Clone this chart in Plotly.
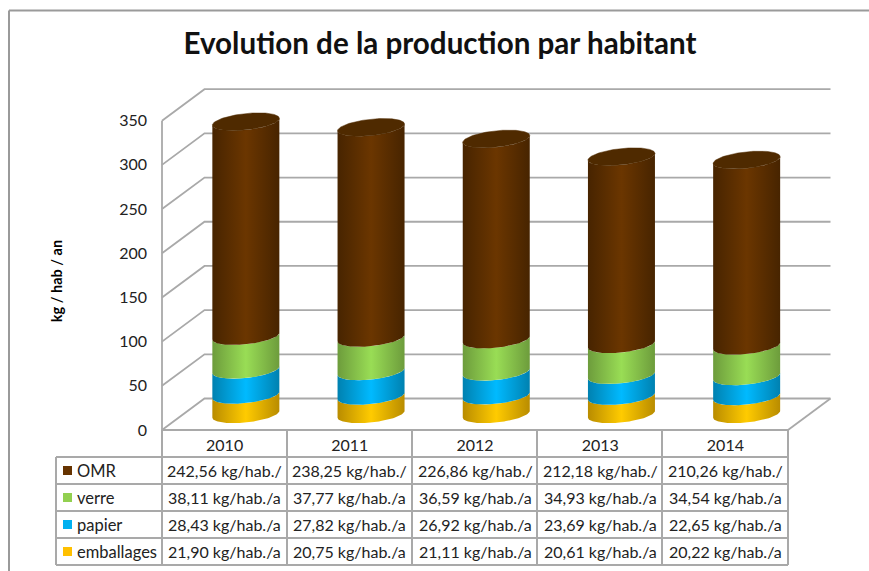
import numpy as np
import plotly.graph_objects as go

# ---- data ----
years = ["2010", "2011", "2012", "2013", "2014"]
emballages = [21.90, 20.75, 21.11, 20.61, 20.22]
papier = [28.43, 27.82, 26.92, 23.69, 22.65]
verre = [38.11, 37.77, 36.59, 34.93, 34.54]
omr = [242.56, 238.25, 226.86, 212.18, 210.26]
y_ticks = [0, 50, 100, 150, 200, 250, 300, 350]
title_text = "Evolution de la production par habitant"
y_title = "kg / hab / an"

# bottom to top stacking
stack_names = ["emballages", "papier", "verre", "OMR"]
stack_values = [emballages, papier, verre, omr]
stack_units = [" kg/hab./a", " kg/hab./a", " kg/hab./a", " kg/hab./"]
key_colors = ["#ffc000", "#00b0f0", "#92d050", "#663300"]
edge_colors = ["#b98c00", "#0081b0", "#6d9c3c", "#472400"]
mid_colors = ["#ffcb00", "#00baff", "#99dd55", "#6b3600"]
top_color = "#4f2a00"

W, H = 869, 571
GRID = "#a9a9a9"
TEXT = "#222222"
FONT = "Lato"

# ---- pixel calibration of the axes ----
PX_ZERO, PX_350 = 430.0, 120.7
PX_COL0, PX_COLSTEP = 224.6, 125.2
PY_TOP, PY_BOT = 30, 532
y_scale = (PX_ZERO - PX_350) / 350


def px(x):
    return x / W


def py(y):
    return 1 - y / H


y_range = [(PX_ZERO - PY_BOT) / y_scale, (PX_ZERO - PY_TOP) / y_scale]
x_range = [(0 - PX_COL0) / PX_COLSTEP, (W - PX_COL0) / PX_COLSTEP]

# 3D box depth, axis units
depth_x = 42.5 / PX_COLSTEP
depth_y = 31.5 / y_scale
x_left, x_right = -0.5, 4.5

# cylinder, axis units
rad_x = 33.5 / PX_COLSTEP
rad_y = 8.2 / y_scale
tilt = 3.4 / y_scale

fig = go.Figure()

# ---- walls and floor ----
gx, gy = [x_left, x_left, None], [0, y_ticks[-1], None]
for v in y_ticks:
    gx += [x_left, x_left + depth_x, x_right + depth_x, None]
    gy += [v, v + depth_y, v + depth_y, None]
gx += [x_right + depth_x, x_right]
gy += [depth_y, 0]
fig.add_trace(go.Scatter(x=gx, y=gy, mode="lines", line=dict(color=GRID, width=1.8),
                         hoverinfo="skip", showlegend=False))


# ---- cylinders ----
def rim(cx, level, t):
    # tilted ellipse: the right side sits higher than the left one
    return cx + rad_x * np.cos(t), level + rad_y * np.sin(t) + tilt * np.cos(t)


front = np.linspace(np.pi, 2 * np.pi, 60)  # left -> right along the near side
back = front[::-1]
whole = np.linspace(0, 2 * np.pi, 120)
for i in range(len(years)):
    cx = i + depth_x / 2
    base = depth_y / 2
    for s, values in enumerate(stack_values):
        v0 = base
        v1 = base + values[i]
        x0, y0 = rim(cx, v0, front)
        x1, y1 = rim(cx, v1, back)
        fig.add_trace(go.Scatter(
            x=np.r_[x0, x1], y=np.r_[y0, y1], mode="lines",
            line=dict(width=0, color="rgba(0,0,0,0)"),
            fill="toself",
            fillgradient=dict(type="horizontal",
                              colorscale=[[0, edge_colors[s]], [0.5, mid_colors[s]], [1, edge_colors[s]]],
                              start=cx - rad_x, stop=cx + rad_x),
            hoverinfo="skip", showlegend=False))
        base = v1
    xt, yt = rim(cx, base, whole)
    fig.add_trace(go.Scatter(x=xt, y=yt, mode="lines", line=dict(width=0.5, color=top_color), fill="toself",
                             fillcolor=top_color, hoverinfo="skip", showlegend=False))

# ---- data table ----
col_edges = [162, 287, 412, 537, 662, 788]
row_edges = [430, 457, 484, 511, 538, 565]
line = dict(color=GRID, width=2)
shapes = []
for xe in col_edges:
    shapes.append(dict(type="line", xref="paper", yref="paper", x0=px(xe), x1=px(xe),
                       y0=py(430), y1=py(565), line=line))
shapes.append(dict(type="line", xref="paper", yref="paper", x0=px(56), x1=px(56),
                   y0=py(457), y1=py(565), line=line))
for k, ye in enumerate(row_edges):
    shapes.append(dict(type="line", xref="paper", yref="paper", x0=px(56 if k else 162), x1=px(788),
                       y0=py(ye), y1=py(ye), line=line))
# outer frame of the chart
shapes.append(dict(type="line", xref="paper", yref="paper", x0=px(9), x1=1, y0=py(10.5), y1=py(10.5),
                   line=dict(color="#9a9a9a", width=2)))
shapes.append(dict(type="line", xref="paper", yref="paper", x0=px(9), x1=px(9), y0=py(10.5), y1=0,
                   line=dict(color="#9a9a9a", width=2)))

annotations = []
for r, s in enumerate(reversed(range(len(stack_names)))):
    yc = (row_edges[r + 1] + row_edges[r + 2]) / 2
    shapes.append(dict(type="rect", xref="paper", yref="paper", x0=px(63), x1=px(72),
                       y0=py(yc - 4.5), y1=py(yc + 4.5), fillcolor=key_colors[s], line=dict(width=0)))
    annotations.append(dict(xref="paper", yref="paper", x=px(74.5), y=py(yc), text=stack_names[s],
                            xanchor="left", yanchor="middle", showarrow=False,
                            font=dict(family=FONT, size=16.5, color=TEXT)))
    for i in range(len(years)):
        label = f"{stack_values[s][i]:.2f}".replace(".", ",") + stack_units[s]
        annotations.append(dict(xref="x", yref="paper", x=i, y=py(yc), text=label,
                                xanchor="center", yanchor="middle", showarrow=False,
                                font=dict(family=FONT, size=16, color=TEXT)))

fig.update_layout(
    width=W, height=H, margin=dict(l=0, r=0, t=0, b=0), autosize=False,
    paper_bgcolor="white", plot_bgcolor="rgba(0,0,0,0)", showlegend=False,
    title=dict(text=f"<b>{title_text}</b>", x=px(440), y=py(44), xanchor="center", yanchor="middle",
               font=dict(family=FONT, size=29.6, color="#111111")),
    xaxis=dict(domain=[0, 1], range=x_range, anchor="free", position=py(PX_ZERO),
               tickmode="array", tickvals=list(range(len(years))), ticktext=years,
               showgrid=False, zeroline=False, showline=False, ticks="", ticklabelstandoff=4,
               tickfont=dict(family=FONT, size=16, color=TEXT)),
    yaxis=dict(domain=[py(PY_BOT), py(PY_TOP)], range=y_range, anchor="free", position=px(162),
               tickmode="array", tickvals=y_ticks, showgrid=False, zeroline=False, showline=False,
               ticks="", ticklabelstandoff=15, tickfont=dict(family=FONT, size=16, color=TEXT),
               title=dict(text=f"<b>{y_title}</b>", standoff=52, font=dict(family=FONT, size=14.5, color="#000000"))),
    shapes=shapes, annotations=annotations,
)
fig.write_html("out.html", config={"displayModeBar": False},
               post_script="document.body.style.margin='0';document.documentElement.style.overflow='hidden';")
